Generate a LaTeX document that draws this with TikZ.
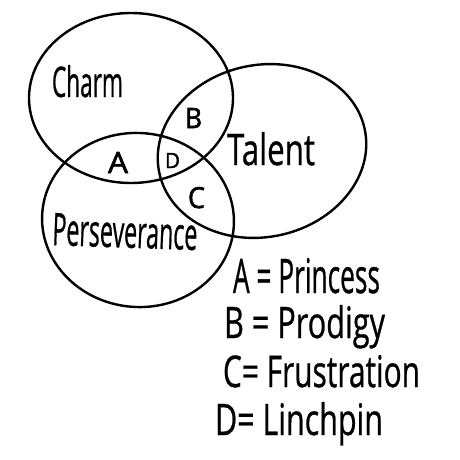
\documentclass[tikz,border=0pt]{standalone}
\usepackage{fontspec}
\setmainfont{Open Sans}
\newfontfamily\handfont{Open Sans}[FakeBold=0.8]
\newfontfamily\handfontheavy{Open Sans}[FakeBold=2]
\usepackage{graphicx}
\usetikzlibrary{shapes.geometric}
\newcommand\handtext[3]{\resizebox{#1pt}{#2pt}{\handfont #3}}
\newcommand\handletter[3]{\resizebox{#1pt}{#2pt}{\handfontheavy #3}}
\begin{document}
\begin{tikzpicture}[x=1pt,y=-1pt,
  venn/.style={draw, ellipse, line width=2.4pt, inner sep=0pt},
  hand/.style={anchor=base west, inner sep=0pt, outer sep=0pt}]
\useasboundingbox (0,0) rectangle (460,460);
\fill[white] (0,0) rectangle (460,460);
% circles
\node[venn, minimum width=204pt, minimum height=170pt] (charmC) at (131,98) {};
\node[venn, minimum width=210pt, minimum height=172pt, rotate=12] (talentC) at (262,151) {};
\node[venn, minimum width=192pt, minimum height=174pt, rotate=-5] (persC) at (138,220) {};
% circle labels
\node[hand] (charm) at (52,97) {\handtext{71}{32}{Charm}};
\node[hand] (talent) at (227,165) {\handtext{88}{33}{Talent}};
\node[hand, rotate=-2] (pers) at (52,245) {\handtext{145}{32}{Perseverance}};
% region labels
\node[hand] (regA) at (108,173) {\handletter{20}{21}{A}};
\node[hand] (regB) at (185,128) {\handletter{17}{20}{B}};
\node[hand] (regD) at (165,168) {\handletter{15}{15}{D}};
\node[hand] (regC) at (188,208) {\handletter{17}{21}{C}};
% legend
\node[hand] (legA) at (233,293) {\handtext{147}{35}{A = Princess}};
\node[hand] (legB) at (224,338) {\handtext{161}{33}{B = Prodigy}};
\node[hand] (legC) at (223,387) {\handtext{197}{32}{C= Frustration}};
\node[hand] (legD) at (215,435) {\handtext{168}{33}{D= Linchpin}};
\end{tikzpicture}
\end{document}
